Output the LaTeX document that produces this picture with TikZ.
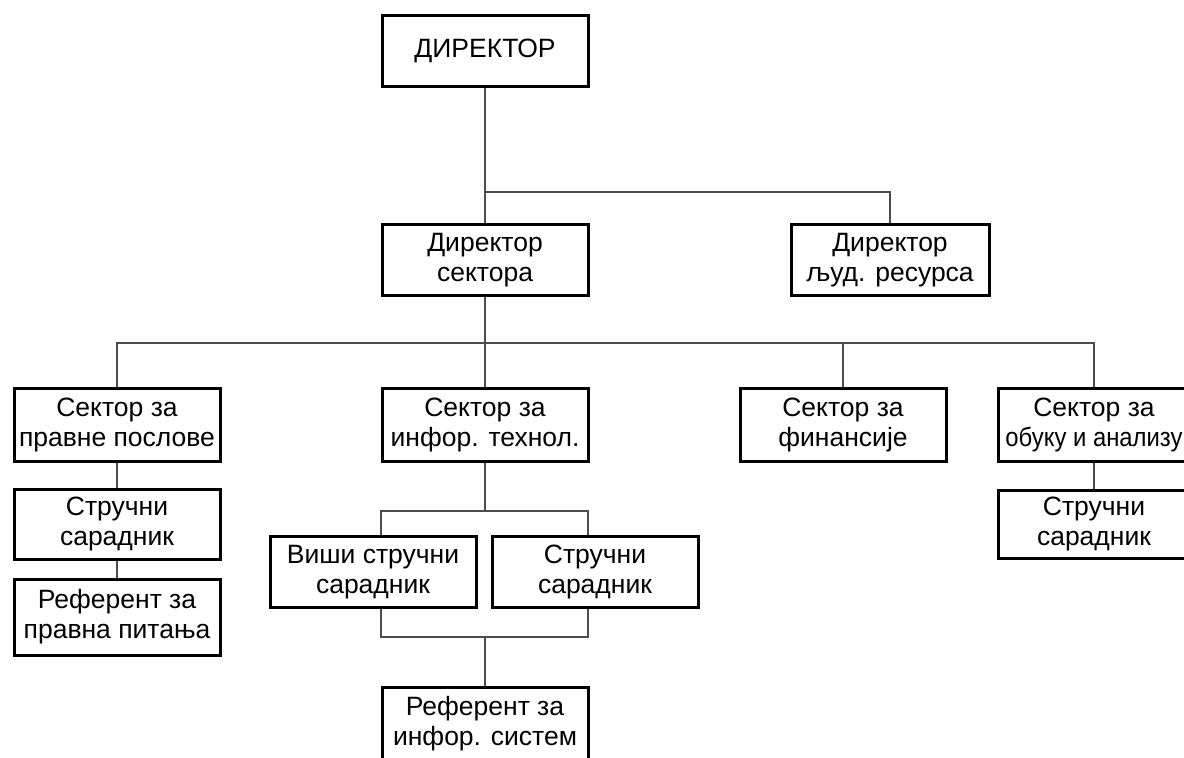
\documentclass[tikz,border=0pt]{standalone}
\usepackage{fontspec}
\setmainfont{Liberation Sans}
\begin{document}
\begin{tikzpicture}[x=1pt, y=-1pt,
    orgbox/.style={draw, line width=3pt, align=center, minimum width=206pt,
      minimum height=71pt, inner sep=0pt, font=\fontsize{26.5}{30}\selectfont},
    link/.style={draw=black!70, line width=1.3pt}]
      \useasboundingbox[fill=white] (0,0) rectangle (1184,758);

      % Top levels
      \node[orgbox] (dir) at (485,51) {ДИРЕКТОР};
      \node[orgbox] (dirsek) at (485,260) {Директор\\сектора};
      \node[orgbox, minimum width=198pt] (dirljud) at (890,260) {Директор\\људ. ресурса};
      \coordinate (j1) at (485,192);
      \draw[link] (dir) -- (dirsek);
      \draw[link] (j1) -| (dirljud);

      % Sectors
      \node[orgbox, minimum height=73pt] (sekpravo) at (117,425) {Сектор за\\правне послове};
      \node[orgbox, minimum height=73pt] (sekit) at (485,425) {Сектор за\\инфор. технол.};
      \node[orgbox, minimum height=73pt] (sekfin) at (843,425) {Сектор за\\финансије};
      \node[orgbox, minimum height=73pt, minimum width=192pt] (sekobuka) at (1094,425)
        {Сектор за\\{\addfontfeatures{FakeStretch=0.9}обуку и анализу}};
      \coordinate (j2) at (485,343);
      \draw[link] (dirsek) -- (sekit);
      \draw[link] (sekpravo.north) |- (j2) -| (sekobuka.north);
      \draw[link] (sekfin.north) -- (sekfin.north |- j2);

      % Legal sector
      \node[orgbox, minimum height=70pt] (strpravo) at (117,524) {Стручни\\сарадник};
      \node[orgbox, minimum height=76pt] (refpravo) at (117,617) {Референт за\\правна питања};
      \draw[link] (sekpravo) -- (strpravo) -- (refpravo);

      % IT sector
      \node[orgbox] (visi) at (373,572) {Виши стручни\\сарадник};
      \node[orgbox] (strit) at (595,572) {Стручни\\сарадник};
      \node[orgbox, minimum height=73pt] (refit) at (485,724) {Референт за\\инфор. систем};
      \coordinate (j3) at (485,511);
      \coordinate (bl) at (381,511);
      \coordinate (br) at (588,511);
      \coordinate (j4) at (485,637);
      \draw[link] (sekit) -- (j3);
      \draw[link] (bl |- visi.north) -- (bl) -- (br) -- (br |- strit.north);
      \draw[link] (bl |- visi.south) |- (j4) -| (br |- strit.south);
      \draw[link] (j4) -- (refit);

      % Training sector
      \node[orgbox, minimum height=68pt, minimum width=192pt] (strobuka) at (1094,524) {Стручни\\сарадник};
      \draw[link] (sekobuka) -- (strobuka);
    \end{tikzpicture}
\end{document}
